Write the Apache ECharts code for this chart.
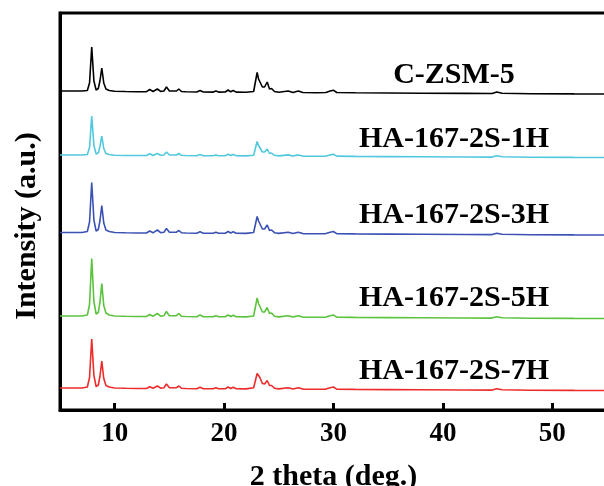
<!DOCTYPE html>
<html><head><meta charset="utf-8">
<script src="https://cdn.jsdelivr.net/npm/echarts@6/dist/echarts.min.js"></script>
<style>html,body{margin:0;padding:0;background:#fff}#c{width:604px;height:486px}</style>
</head><body><div id="c"></div>
<script>
// 2 theta grid (deg.)
const twoTheta = [5,7.0,7.5,7.7,7.9,8.1,8.3,8.5,8.65,8.82,9.0,9.2,9.5,10,11,12,12.9,13.2,13.5,13.9,14.2,14.5,14.73,15.0,15.25,15.43,15.65,15.86,16.1,16.5,17.5,17.8,18.1,19.0,19.25,19.5,20.1,20.37,20.6,20.83,21.1,22.0,22.7,23.02,23.15,23.27,23.5,23.7,23.94,24.15,24.34,24.6,25.0,25.86,26.3,26.78,27.2,28.5,29.3,29.7,29.98,30.3,32,35,38,42,44.5,44.93,45.4,48,52,55];
// intensities (a.u.), relative to each pattern's own baseline
const czsm5 = [3,3,3.5,11,47,13,4,5.5,13,26,11,5,3.5,2.8,2.5,2.3,2.3,4.5,2.5,5,2.6,3,7,3,3,5,3,5,2.5,2.2,2,3.5,2,1.9,3,1.9,2,4,2.2,3.5,1.9,1.8,2.5,21.5,15,14,7,7,12,5,5.5,2.5,1.8,3,1.6,3,1.5,1.3,1.5,3,3.8,1.5,1.2,1,0.8,0.6,0.5,2,0.8,0.3,0.1,0];
const ha1h = [2.5,2.5,3,10,41.5,12,3.5,4.5,11,21.5,9,4,3,2.3,2,2,2,3.8,2,4,2.2,2.5,5.5,2.5,2.5,4,2.5,4,2.2,2,1.8,3,1.8,1.7,2.5,1.7,1.8,3.2,2,3,1.7,1.6,2.3,16,12,11,5.5,5.5,8.5,4,4.5,2.2,1.6,2.6,1.5,2.6,1.4,1.2,1.4,2.6,3.2,1.4,1.1,0.9,0.7,0.5,0.4,1.8,0.7,0.3,0.1,0];
const ha3h = [2.5,2.5,3.5,13,52.5,15,4,5.5,14,29.5,12,5,3.5,2.5,2.2,2,2,4,2.2,5,2.4,2.8,6.5,2.8,2.8,4.5,2.8,4.5,2.3,2,1.8,3.2,1.8,1.7,2.7,1.7,1.8,3.5,2,3.2,1.7,1.6,2.5,18.5,14,12.5,6,6,10,4.5,5,2.3,1.6,2.8,1.5,2.8,1.4,1.2,1.4,2.8,3.5,1.4,1.1,0.9,0.7,0.5,0.4,1.8,0.7,0.3,0.1,0];
const ha5h = [2.5,2.5,3.5,14,60,17,4.5,6,16,35,13,5.5,3.5,2.5,2.2,2,2,4,2.2,5,2.4,2.8,7,2.8,2.8,4.5,2.8,5,2.3,2,1.8,3.5,1.8,1.7,2.7,1.7,1.8,3.5,2,3.2,1.7,1.6,2.5,20.5,15,13.5,6.5,6.5,11,5,5.5,2.3,1.6,2.8,1.5,2.8,1.4,1.2,1.4,2.8,3.5,1.4,1.1,0.9,0.7,0.5,0.4,1.8,0.7,0.3,0.1,0];
const ha7h = [2.5,2.5,3.5,13,51.5,15,4,5.5,14,29.5,12,5,3.5,2.5,2.2,2,2,3.8,2.2,4.5,2.4,2.8,6.5,2.8,2.8,4.5,2.8,4.5,2.3,2,1.8,3.2,1.8,1.7,2.7,1.7,1.8,3.5,2,3.2,1.7,1.6,2.8,17,15,13,7,6.5,10,5,5,2.3,1.6,2.8,1.5,2.8,1.4,1.2,1.4,2.8,3.5,1.4,1.1,0.9,0.7,0.5,0.4,1.8,0.7,0.3,0.1,0];
const names = ['C-ZSM-5','HA-167-2S-1H','HA-167-2S-3H','HA-167-2S-5H','HA-167-2S-7H'];
const patterns = [czsm5, ha1h, ha3h, ha5h, ha7h];
// vertical stacking offsets (a.u.)
const offsets = [316, 252.5, 175, 91.5, 19.5];
const colors = ['#000000','#52c8df','#3b52b4','#5cc33e','#ee2b2b'];
const xTicks = [10,20,30,40,50];

const chart = echarts.init(document.getElementById('c'), null, {renderer:'canvas'});
const font = '"Liberation Serif","Times New Roman",serif';
const series = patterns.map((p,k)=>({
  type:'line', name:names[k], showSymbol:false, symbol:'none', smooth:false,
  lineStyle:{color:colors[k], width:1.6}, color:colors[k],
  data: twoTheta.map((t,i)=>[t, p[i]+offsets[k]])
}));
const labelY = [75, 139, 215, 298, 371];
chart.setOption({
  animation:false,
  grid:{left:60, top:13, right:-3, bottom:76, outerBoundsMode:'none', containLabel:false,
        show:true, borderColor:'#000', borderWidth:3, backgroundColor:'transparent'},
  xAxis:{type:'value', min:5, max:55,
    name:'2 theta (deg.)', nameLocation:'middle', nameGap:52,
    nameTextStyle:{fontFamily:font, fontWeight:'bold', fontSize:30, color:'#000'},
    axisLine:{show:true, lineStyle:{color:'#000', width:3}},
    axisTick:{show:true, inside:true, length:7, lineStyle:{color:'#000', width:3}, customValues:xTicks},
    axisLabel:{show:true, margin:11, fontFamily:font, fontWeight:'bold', fontSize:27, color:'#000', customValues:xTicks},
    splitLine:{show:false}},
  yAxis:{type:'value', min:0, max:397, show:true,
    axisLine:{show:true, lineStyle:{color:'#000', width:3}},
    axisTick:{show:false}, axisLabel:{show:false}, splitLine:{show:false}},
  graphic:[
    {type:'text', x:27, y:226, rotation:Math.PI/2,
     style:{text:'Intensity (a.u.)', fontFamily:font, fontWeight:'bold', fontSize:30, fill:'#000', textAlign:'center', textVerticalAlign:'middle'}},
    ...names.map((n,k)=>({type:'text', x:454, y:labelY[k],
     style:{text:n, fontFamily:font, fontWeight:'bold', fontSize:30, fill:'#000', textAlign:'center', textVerticalAlign:'middle'}}))
  ],
  series: series
});
</script></body></html>
